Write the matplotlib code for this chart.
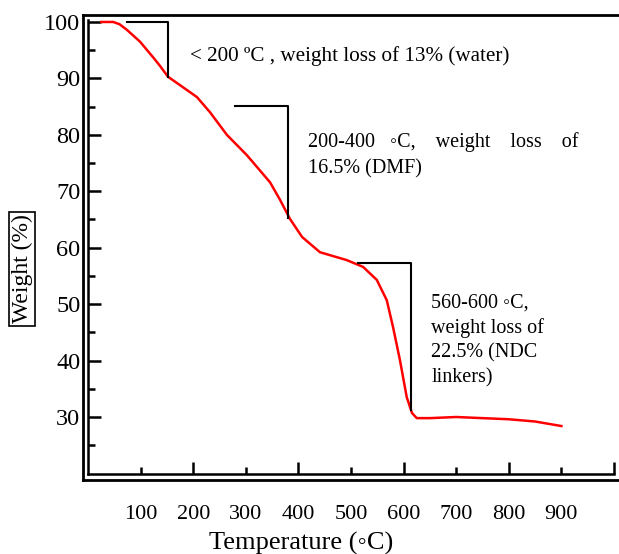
import matplotlib
matplotlib.use("Agg")
import matplotlib.pyplot as plt
from matplotlib.lines import Line2D

plt.rcParams['font.family'] = ['Liberation Serif', 'DejaVu Serif']

# TGA curve
temp = [25, 48, 60, 74, 99, 125, 137, 152, 175, 207, 232, 264, 302, 346, 365,
        384, 407, 441, 492, 523, 549, 568, 580, 593, 606, 616, 625, 650, 700,
        750, 800, 850, 900]
weight = [100, 100, 99.6, 98.6, 96.5, 93.6, 92.2, 90.3, 88.8, 86.7, 84, 80, 76.4,
          71.6, 68.5, 65.1, 61.9, 59.2, 57.8, 56.6, 54.3, 50.7, 45.9, 40.1, 33.5,
          30.7, 29.8, 29.8, 30, 29.8, 29.6, 29.2, 28.4]

# annotation brackets (temperature, weight)
br1_t = [74, 152, 152]
br1_w = [100, 100, 90.2]
br2_t = [279, 380, 380]
br2_w = [85.1, 85.1, 65.3]
br3_t = [513, 615, 615]
br3_w = [57.3, 57.3, 31.2]

x_major = [200, 400, 600, 800, 1000]
x_major_lab = ['200', '400', '600', '800', '']
x_minor = [100, 300, 500, 700, 900]
x_minor_lab = ['100', '300', '500', '700', '900']
y_major = [30, 40, 50, 60, 70, 80, 90, 100]
y_minor = [25, 35, 45, 55, 65, 75, 85, 95]

W, H = 619, 554
fig = plt.figure(figsize=(W / 100, H / 100), dpi=100)
ax = fig.add_axes([88 / W, 80 / H, 526 / W, 454 / H])

ax.plot(temp, weight, color='red', lw=1.8)
for t, w in [(br1_t, br1_w), (br2_t, br2_w), (br3_t, br3_w)]:
    ax.plot(t, w, color='black', lw=1.5)

ax.set_xlim(0, 1000)
ax.set_ylim(19.9, 100.35)
for s in ['top', 'right']:
    ax.spines[s].set_visible(False)
for s in ['left', 'bottom']:
    ax.spines[s].set_linewidth(1.8)

ax.set_xticks(x_major, labels=x_major_lab)
ax.set_xticks(x_minor, labels=x_minor_lab, minor=True)
ax.set_yticks(y_major)
ax.set_yticks(y_minor, minor=True)
ax.tick_params(which='both', direction='in', width=1.8, labelsize=16)
ax.tick_params(axis='y', which='both', labelsize=17.5, pad=5.5)
ax.tick_params(which='major', length=9)
ax.tick_params(which='minor', length=5)
ax.tick_params(axis='x', which='both', pad=22)

# outer frame
fx = lambda px: px / W
fy = lambda py: 1 - py / H
fig.add_artist(Line2D([fx(83), fx(83)], [fy(15), fy(480)], color='black', lw=2))
fig.add_artist(Line2D([fx(83), 1], [fy(15), fy(15)], color='black', lw=2))
fig.add_artist(Line2D([fx(83), 1], [fy(480), fy(480)], color='black', lw=2))

ax.text(194, 94.0, '< 200 ºC , weight loss of 13% (water)', fontsize=15.2, va='center')
ax.text(418, 76.4, '200-400   ◦C,    weight    loss    of\n16.5% (DMF)', fontsize=14.5,
        va='center', linespacing=1.5)
ax.text(653, 43.6, '560-600 ◦C,\nweight loss of\n22.5% (NDC\nlinkers)', fontsize=14.5,
        va='center', linespacing=1.38)

fig.text(fx(301), fy(543), 'Temperature (◦C)', fontsize=19, ha='center', va='center')
fig.text(fx(22), fy(269), 'Weight (%)', fontsize=17, rotation=90, ha='center', va='center',
         bbox=dict(boxstyle='square,pad=0.1', fc='white', ec='black', lw=1.2))

fig.savefig('out.png', dpi=100)
